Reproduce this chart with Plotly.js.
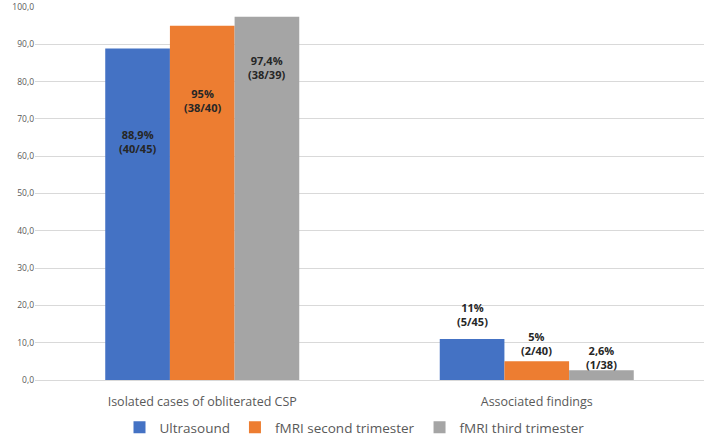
<!DOCTYPE html>
<html><head><meta charset="utf-8">
<script src="https://cdn.plot.ly/plotly-3.0.1.min.js"></script>
<style>html,body{margin:0;padding:0;background:#fff}#c{width:709px;height:438px}</style>
</head><body><div id="c"></div>
<script>
const categories = ["Isolated cases of obliterated CSP", "Associated findings"];
const seriesNames = ["Ultrasound", "fMRI second trimester", "fMRI third trimester"];
const ultrasound = [88.9, 11];
const fmriSecond = [95, 5];
const fmriThird = [97.4, 2.6];
const labelsUltrasound = ["88,9%<br>(40/45)", "11%<br>(5/45)"];
const labelsSecond = ["95%<br>(38/40)", "5%<br>(2/40)"];
const labelsThird = ["97,4%<br>(38/39)", "2,6%<br>(1/38)"];
const yTicks = [0,10,20,30,40,50,60,70,80,90,100];

const colors = ["#4472C4", "#ED7D31", "#A5A5A5"];
const values = [ultrasound, fmriSecond, fmriThird];
const labels = [labelsUltrasound, labelsSecond, labelsThird];

const traces = values.map((v, i) => ({
  type: 'bar', name: seriesNames[i], x: categories, y: v,
  marker: {color: colors[i]}, hoverinfo: 'none'
}));

const bargap = 0.42;
const bw = (1 - bargap) / 3;
// pixel shifts of label centres relative to bar tops
const shifts = [[-93, 24], [-75, 18], [-51, 13]];
const annotations = [];
values.forEach((v, i) => {
  v.forEach((val, j) => {
    annotations.push({
      x: j + (i - 1) * bw, y: val, xref: 'x', yref: 'y',
      text: '<b>' + labels[i][j] + '</b>', showarrow: false,
      yanchor: 'middle', xanchor: 'center', yshift: shifts[i][j],
      font: {family: 'Open Sans, Liberation Sans, sans-serif', size: 11, color: '#262626'}
    });
  });
});

const layout = {
  width: 709, height: 438,
  margin: {l: 35, r: 5, t: 7, b: 58, autoexpand: false},
  paper_bgcolor: '#fff', plot_bgcolor: '#fff',
  barmode: 'group', bargap: bargap, bargroupgap: 0,
  separators: ',.',
  font: {family: 'Open Sans, Liberation Sans, sans-serif', color: '#595959'},
  xaxis: {type: 'category', showline: false, ticks: '', tickfont: {size: 12.5, color: '#595959'},
          ticklabelstandoff: 12, automargin: false},
  yaxis: {range: [0, 100], tickvals: yTicks, tickformat: '.1f', gridcolor: '#D9D9D9', gridwidth: 1,
          zeroline: true, zerolinecolor: '#D9D9D9', zerolinewidth: 1,
          tickfont: {size: 8.5, color: '#595959'}, ticks: '', automargin: false},
  showlegend: true,
  legend: {orientation: 'h', x: 0.5, xanchor: 'center', xref: 'container',
           y: 0.024, yanchor: 'middle', yref: 'container',
           font: {size: 13.5, color: '#595959'}, itemwidth: 30, traceorder: 'normal'},
  annotations: annotations
};
Plotly.newPlot('c', traces, layout, {displayModeBar: false, staticPlot: true});
</script></body></html>
